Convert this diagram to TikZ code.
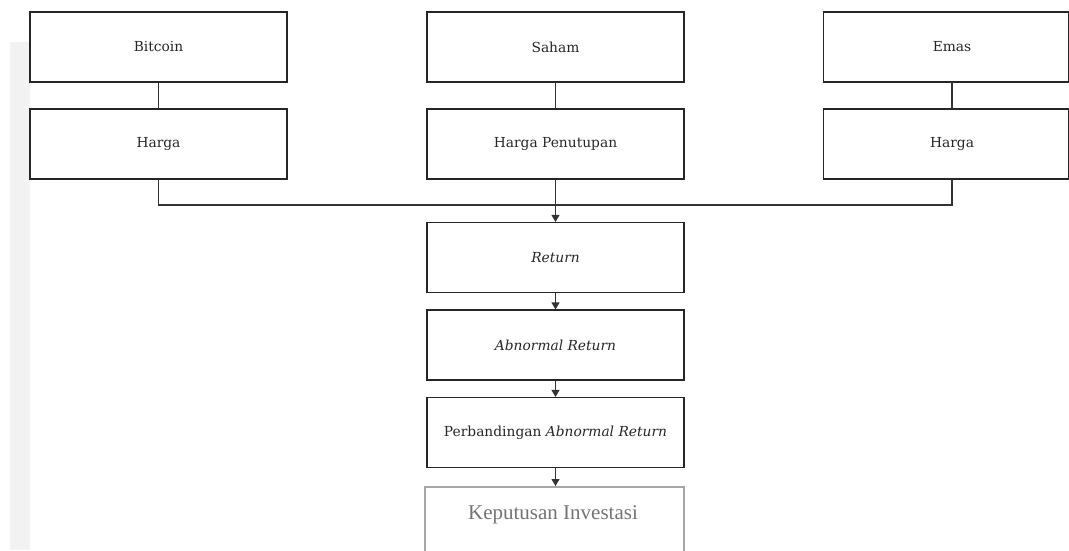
\documentclass[tikz,border=0pt]{standalone}
\usepackage{fontspec}
\setmainfont{DejaVu Serif}
\newfontfamily\timesf{Liberation Serif}
\usetikzlibrary{arrows.meta}
\begin{document}
\begin{tikzpicture}[x=1pt,y=-1pt,
  box/.style={draw=black!85, line width=1.1pt, minimum width=257pt, minimum height=70pt, inner sep=0pt, font=\fontsize{13.8}{16}\selectfont, text=black!85},
  conn/.style={draw=black!80, line width=1.1pt},
  arr/.style={conn, -{Triangle[length=7pt,width=8pt]}}]
\useasboundingbox (0,0) rectangle (1069,550);
\fill[black!5] (10,42) rectangle (30,550);
\node[box] (bit) at (158.5,47) {Bitcoin};
\node[box] (hb) at (158.5,144) {Harga};
\node[box] (sah) at (555.5,47) {Saham};
\node[box] (hp) at (555.5,144) {Harga Penutupan};
\node[box, minimum width=245pt, anchor=west] (ema) at (823,47) {\hspace*{12pt}Emas};
\node[box, minimum width=245pt, anchor=west] (he) at (823,144) {\hspace*{12pt}Harga};
\node[box] (ret) at (555.5,257.5) {\itshape Return};
\node[box] (abn) at (555.5,345) {\itshape Abnormal Return};
\node[box] (per) at (555.5,432.5) {Perbandingan \itshape Abnormal Return};
\draw[black!35, line width=2pt] (425,560) -- (425,487) -- (684,487) -- (684,560);
\node[font=\timesf\fontsize{21}{24}\selectfont, text=black!55] (kep) at (553,515) {Keputusan Investasi};
\coordinate (kt) at (555.5,486);
\draw[conn] (bit.south) -- (hb.north);
\draw[conn] (sah.south) -- (hp.north);
\draw[conn] (952,82) -- (952,109);
\draw[conn] (hb.south) -- (158.5,205) -- (952,205) -- (952,179);
\draw[arr] (hp.south) -- (ret.north);
\draw[arr] (ret.south) -- (abn.north);
\draw[arr] (abn.south) -- (per.north);
\draw[arr] (per.south) -- (kt);
\end{tikzpicture}
\end{document}
